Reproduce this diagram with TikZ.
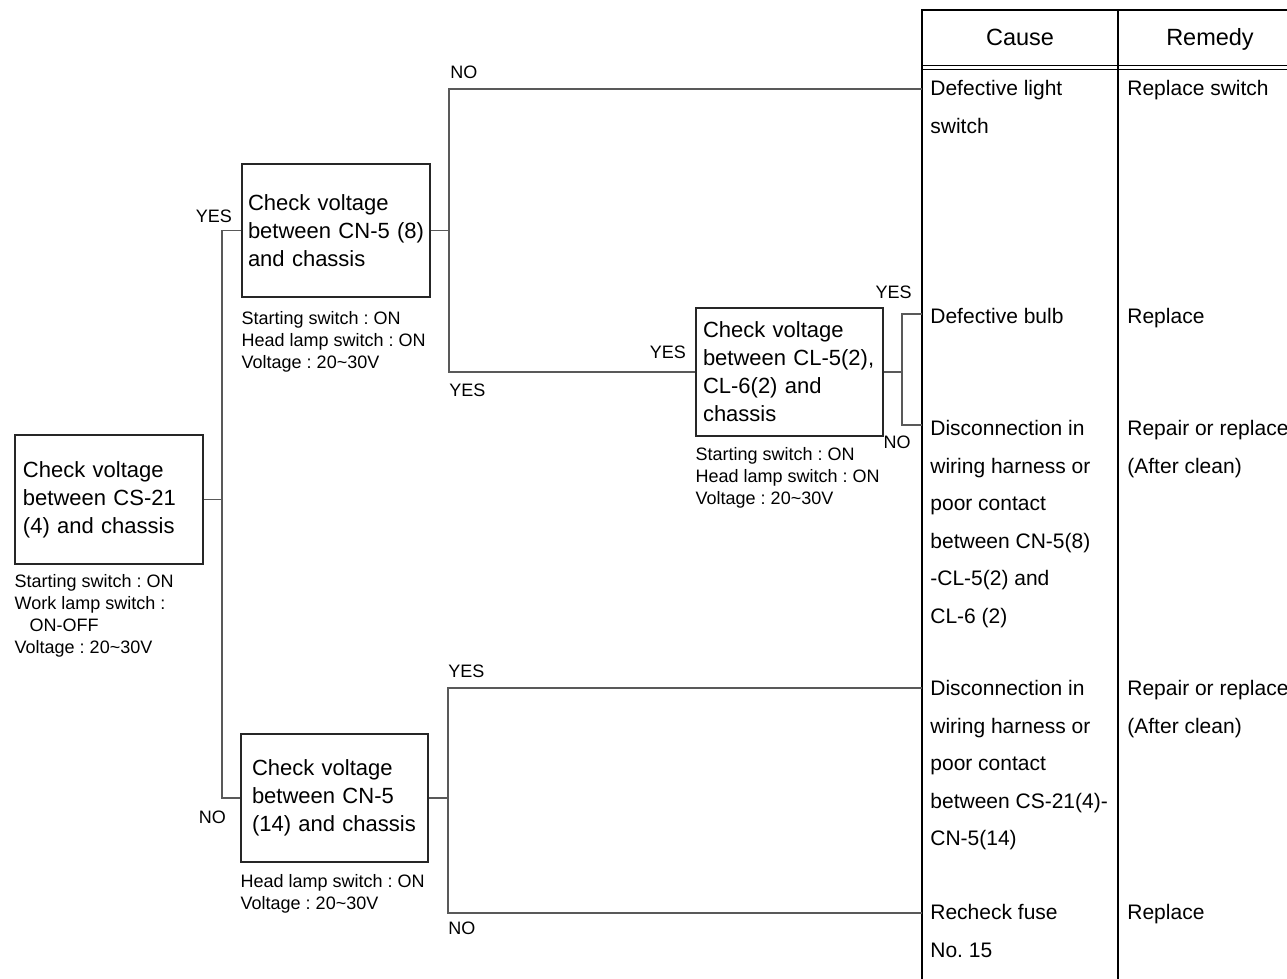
\documentclass[tikz,border=0pt]{standalone}
\usepackage{fontspec}
\setmainfont{Liberation Sans}
\usetikzlibrary{positioning}
\frenchspacing

\newcommand{\chkfont}{\fontsize{11}{14}\selectfont}
\newcommand{\notefont}{\fontsize{9}{11}\selectfont}
\newcommand{\cellfont}{\fontsize{10.5}{18.75}\selectfont}
\newcommand{\headfont}{\fontsize{11.75}{14}\selectfont}

\tikzset{
  chkbox/.style={draw=black!85, line width=0.7pt, align=left, font=\chkfont, inner ysep=2pt},
  note/.style={align=left, font=\notefont, inner sep=0pt, anchor=north west},
  lbl/.style={font=\notefont, inner sep=0pt},
  cell/.style={align=left, font=\cellfont, inner sep=0pt, anchor=north west},
  wire/.style={draw=black!65, line width=0.55pt},
}

\begin{document}
\begin{tikzpicture}[x=0.5pt, y=-0.5pt]
\useasboundingbox (0,0) rectangle (1287,979);

% Check boxes
\node[chkbox, text width=86pt, inner xsep=4pt, minimum height=64.5pt] (chkA) at (109,499.5)
  {Check voltage\\between CS-21\\(4) and chassis\\[2pt]};
\node[chkbox, text width=88pt, inner xsep=3pt, minimum height=66.5pt] (chkB) at (336,230.5)
  {Check voltage\\\mbox{between CN-5 (8)}\\and chassis};
\node[chkbox, text width=86.5pt, inner xsep=3.5pt, minimum height=64pt] (chkC) at (789.5,372)
  {Check voltage\\\mbox{between CL-5(2),}\\CL-6(2) and\\chassis};
\node[chkbox, text width=82.5pt, inner xsep=5.5pt, minimum height=64pt] (chkD) at (334.5,798)
  {Check voltage\\between CN-5\\\mbox{(14) and chassis}};

% Conditions under the boxes
\node[note] (noteA) at ([yshift=-4.5pt]chkA.south west)
  {Starting switch : ON\\Work lamp switch :\\\hspace*{7.5pt}ON-OFF\\Voltage : 20\textasciitilde30V};
\node[note] (noteB) at ([yshift=-6.5pt]chkB.south west)
  {Starting switch : ON\\Head lamp switch : ON\\Voltage : 20\textasciitilde30V};
\node[note] (noteC) at ([yshift=-5pt]chkC.south west)
  {Starting switch : ON\\Head lamp switch : ON\\Voltage : 20\textasciitilde30V};
\node[note] (noteD) at ([yshift=-5.5pt]chkD.south west)
  {Head lamp switch : ON\\Voltage : 20\textasciitilde30V};

% Table frame
\draw[line width=1.2pt] (922,979) -- (922,10) -- (1287,10);
\draw[line width=0.8pt] (1118,10) -- (1118,979);
\draw[line width=0.5pt] (922,65.5) -- (1287,65.5) (922,69.5) -- (1287,69.5);

% Table head
\node[cell, anchor=base, font=\headfont] (hCause) at (1020,46) {Cause};
\node[cell, anchor=base, font=\headfont] (hRemedy) at (1210,46) {Remedy};

% Causes and remedies
\node[cell] (cause1) at (930,80) {Defective light\\switch};
\node[cell] (fix1) at (1127,80) {Replace switch};
\node[cell] (cause2) at (930,308) {Defective bulb};
\node[cell] (fix2) at (1127,308) {Replace};
\node[cell] (cause3) at (930,420)
  {Disconnection in\\wiring harness or\\poor contact\\between CN-5(8)\\-CL-5(2) and\\CL-6 (2)};
\node[cell] (fix3) at (1127,420) {Repair or replace\\(After clean)};
\node[cell] (cause4) at (930,680)
  {Disconnection in\\wiring harness or\\poor contact\\between CS-21(4)-\\CN-5(14)};
\node[cell] (fix4) at (1127,680) {Repair or replace\\(After clean)};
\node[cell] (cause5) at (930,904) {Recheck fuse\\No. 15};
\node[cell] (fix5) at (1127,904) {Replace};

% Junctions and row ends
\coordinate (jA) at (222,499.5);
\coordinate (jB) at (449,230.5);
\coordinate (jC) at (902,372);
\coordinate (jD) at (448,798);
\coordinate (r1) at (922,89);
\coordinate (r2) at (922,314);
\coordinate (r3) at (922,425);
\coordinate (r4) at (922,688);
\coordinate (r5) at (922,913);

% Connectors
\draw[wire] (chkA.east) -- (jA);
\draw[wire] (chkB.west) -| (jA) |- (chkD.west);
\draw[wire] (chkB.east) -- (jB);
\draw[wire] (r1) -| (jB) |- (chkC.west);
\draw[wire] (chkC.east) -- (jC);
\draw[wire] (r2) -| (jC) |- (r3);
\draw[wire] (chkD.east) -- (jD);
\draw[wire] (r4) -| (jD) |- (r5);

% YES / NO labels
\node[lbl, above left=3.75pt and 4.5pt of chkB.west] (yB) {YES};
\node[lbl, below left=6.5pt and 7pt of chkD.west] (nD) {NO};
\node[lbl, anchor=south west, xshift=0.5pt, yshift=5pt] (nB) at (jB |- r1) {NO};
\node[lbl, anchor=north west, yshift=-6pt] (yB2) at (jB |- chkC.west) {YES};
\node[lbl, above left=6.5pt and 4.5pt of chkC.west] (yC) {YES};
\node[lbl, anchor=south east, xshift=5pt, yshift=7.5pt] (yC2) at (jC |- r2) {YES};
\node[lbl, anchor=north east, xshift=4.5pt, yshift=-5.5pt] (nC) at (jC |- r3) {NO};
\node[lbl, anchor=south west, yshift=5pt] (yD) at (jD |- r4) {YES};
\node[lbl, anchor=north west, yshift=-4.5pt] (nD2) at (jD |- r5) {NO};

\end{tikzpicture}
\end{document}
